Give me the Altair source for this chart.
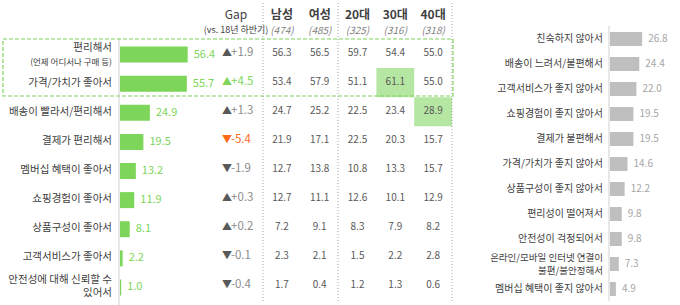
import altair as alt
import pandas as pd

# ---------------- data ----------------
left_labels = ["편리해서", "가격/가치가 좋아서", "배송이 빨라서/편리해서", "결제가 편리해서",
               "멤버십 혜택이 좋아서", "쇼핑경험이 좋아서", "상품구성이 좋아서",
               "고객서비스가 좋아서", "안전성에 대해 신뢰할 수\n있어서"]
left_note = "(언제 어디서나 구매 등)"
left_values = [56.4, 55.7, 24.9, 19.5, 13.2, 11.9, 8.1, 2.2, 1.0]
gap_values = [1.9, 4.5, 1.3, -5.4, -1.9, 0.3, 0.2, -0.1, -0.4]
gap_title = "Gap"
gap_subtitle = "(vs. 18년 하반기)"

groups = ["남성", "여성", "20대", "30대", "40대"]
group_counts = ["(474)", "(485)", "(325)", "(316)", "(318)"]
male = [56.3, 53.4, 24.7, 21.9, 12.7, 12.7, 7.2, 2.3, 1.7]
female = [56.5, 57.9, 25.2, 17.1, 13.8, 11.1, 9.1, 2.1, 0.4]
age20 = [59.7, 51.1, 22.5, 22.5, 10.8, 12.6, 8.3, 1.5, 1.2]
age30 = [54.4, 61.1, 23.4, 20.3, 13.3, 10.1, 7.9, 2.2, 1.3]
age40 = [55.0, 55.0, 28.9, 15.7, 15.7, 12.9, 8.2, 2.8, 0.6]

right_labels = ["친숙하지 않아서", "배송이 느려서/불편해서", "고객서비스가 좋지 않아서",
                "쇼핑경험이 좋지 않아서", "결제가 불편해서", "가격/가치가 좋지 않아서",
                "상품구성이 좋지 않아서", "편리성이 떨어져서", "안전성이 걱정되어서",
                "온라인/모바일 인터넷 연결이\n불편/불안정해서", "멤버십 혜택이 좋지 않아서"]
right_values = [26.8, 24.4, 22.0, 19.5, 19.5, 14.6, 12.2, 9.8, 9.8, 7.3, 4.9]

# ---------------- styles ----------------
FONT = "Noto Sans CJK KR"
GREEN = "#7DD65A"
LIGHT_GREEN = "#B5E6A2"
ORANGE = "#FF6A1A"
GRAY_BAR = "#BFBFBF"
TXT = "#404040"
NUM = "#595959"
LINE = "#D9D9D9"

# ---------------- tables ----------------
n_left = len(left_labels)
left_df = pd.DataFrame({"row": list(range(n_left)), "label": left_labels,
                        "value": left_values, "gap": gap_values})
left_df["arrow"] = ["▲" if g > 0 else "▼" for g in gap_values]
left_df["gaptxt"] = [f"{g:+.1f}" for g in gap_values]
left_df["gapcat"] = ["up" if g >= 3 else ("down" if g <= -3 else "flat") for g in gap_values]
left_df["multi"] = ["\n" in s for s in left_labels]

series = [male, female, age20, age30, age40]
tbl_rows = []
for g, vals in zip(groups, series):
    for i, v in enumerate(vals):
        tbl_rows.append({"row": i, "group": g, "value": v,
                         "hi": (v - left_values[i]) >= 4})
tbl_df = pd.DataFrame(tbl_rows)
head_df = pd.DataFrame({"group": groups, "count": group_counts})

n_right = len(right_labels)
right_df = pd.DataFrame({"row": list(range(n_right)), "label": right_labels,
                         "value": right_values})
right_df["multi"] = ["\n" in s for s in right_labels]

one = pd.DataFrame({"t": [gap_title], "s": [gap_subtitle], "note": [left_note]})

# ---------------- scales ----------------
y_left = alt.Y("row:O", axis=None,
               scale=alt.Scale(type="band", domain=list(range(n_left)), range=[39, 301],
                               paddingInner=0, paddingOuter=0))
x_left = alt.X("value:Q", axis=None, scale=alt.Scale(domain=[0, 100], range=[120, 240]))
x_tbl = alt.X("group:N", axis=None,
              scale=alt.Scale(type="band", domain=groups, range=[263, 452],
                              paddingInner=0, paddingOuter=0))
y_right = alt.Y("row:O", axis=None,
                scale=alt.Scale(type="band", domain=list(range(n_right)), range=[26.5, 301.5],
                                paddingInner=0, paddingOuter=0))
x_right = alt.X("value:Q", axis=None, scale=alt.Scale(domain=[0, 100], range=[610, 730]))

base_l = alt.Chart(left_df)

# left labels
lab_main = base_l.transform_filter("datum.row > 0 && !datum.multi").mark_text(
    align="right", baseline="middle", fontSize=10.5, color=TXT
).encode(x=alt.value(112), y=y_left, text="label:N")
lab_multi = base_l.transform_filter("datum.multi").mark_text(
    align="right", baseline="middle", fontSize=10.5, color=TXT, lineBreak="\n",
    lineHeight=13.5, dy=-6.5
).encode(x=alt.value(112), y=y_left, text="label:N")
lab_first = base_l.transform_filter("datum.row == 0").mark_text(
    align="right", baseline="middle", fontSize=10.5, color=TXT, dy=-6
).encode(x=alt.value(112), y=y_left, text="label:N")
lab_note = alt.Chart(one).mark_text(
    align="right", baseline="middle", fontSize=8.5, color=TXT
).encode(x=alt.value(112), y=alt.value(61.5), text="note:N")

# guide lines
left_axis = alt.Chart(one).mark_rule(color=LINE, strokeWidth=1.2).encode(
    x=alt.value(119), y=alt.value(39), y2=alt.value(305))
right_axis = alt.Chart(one).mark_rule(color=LINE, strokeWidth=1.2).encode(
    x=alt.value(609), y=alt.value(26), y2=alt.value(301))
dots = [alt.Chart(one).mark_rule(color="#A6A6A6", strokeWidth=1, strokeDash=[1, 2]).encode(
    x=alt.value(px), y=alt.value(3), y2=alt.value(302)) for px in (263, 338, 452)]

# bars and values
bars_l = base_l.mark_bar(height=16, color=GREEN, yOffset=1).encode(x=x_left, y=y_left)
vals_l = base_l.mark_text(align="left", baseline="middle", dx=6, fontSize=11, color=GREEN,
                          yOffset=1).encode(
    x=x_left, y=y_left, text=alt.Text("value:Q", format=".1f"))

# gap column
gap_head = alt.Chart(one).mark_text(fontSize=12, color=TXT, baseline="middle").encode(
    x=alt.value(236), y=alt.value(15), text="t:N")
gap_sub = alt.Chart(one).mark_text(fontSize=9, color=TXT, baseline="middle").encode(
    x=alt.value(236), y=alt.value(30), text="s:N")
gap_arrow = base_l.mark_text(align="left", baseline="middle", fontSize=10, dy=-1).encode(
    x=alt.value(222), y=y_left, text="arrow:N",
    color=alt.Color("gapcat:N", legend=None,
                    scale=alt.Scale(domain=["up", "down", "flat"], range=[GREEN, ORANGE, "#595959"])))
gap_txt = base_l.mark_text(align="left", baseline="middle", fontSize=11.5, dy=-1).encode(
    x=alt.value(231), y=y_left, text="gaptxt:N",
    color=alt.Color("gapcat:N", legend=None,
                    scale=alt.Scale(domain=["up", "down", "flat"], range=[GREEN, ORANGE, "#8C8C8C"])))

# table
base_t = alt.Chart(tbl_df)
hi_cells = base_t.transform_filter("datum.hi").mark_rect(color=LIGHT_GREEN).encode(
    x=x_tbl, y=y_left)
tbl_txt = base_t.mark_text(baseline="middle", fontSize=10, color=NUM, dy=-1).encode(
    x=x_tbl, y=y_left, text=alt.Text("value:Q", format=".1f"))
head_txt = alt.Chart(head_df).mark_text(baseline="middle", fontSize=12, fontWeight="bold",
                                        color=TXT).encode(
    x=x_tbl, y=alt.value(15), text="group:N")
count_txt = alt.Chart(head_df).mark_text(baseline="middle", fontSize=10, fontStyle="italic",
                                         color="#7F7F7F").encode(
    x=x_tbl, y=alt.value(31), text="count:N")

# dashed highlight box
box = alt.Chart(one).mark_rect(fillOpacity=0, stroke=GREEN, strokeWidth=1.2,
                               strokeDash=[4, 2]).encode(
    x=alt.value(3), x2=alt.value(453), y=alt.value(39), y2=alt.value(96))

# right panel
base_r = alt.Chart(right_df)
lab_r = base_r.transform_filter("!datum.multi").mark_text(
    align="right", baseline="middle", fontSize=10, color=TXT).encode(
    x=alt.value(603), y=y_right, text="label:N")
lab_r_multi = base_r.transform_filter("datum.multi").mark_text(
    align="right", baseline="middle", fontSize=9.5, color=TXT,
    lineBreak="\n", lineHeight=12.5, dy=-6).encode(
    x=alt.value(603), y=y_right, text="label:N")
bars_r = base_r.mark_bar(height=14, color=GRAY_BAR).encode(x=x_right, y=y_right)
vals_r = base_r.mark_text(align="left", baseline="middle", dx=6, fontSize=10,
                          color="#A6A6A6").encode(
    x=x_right, y=y_right, text=alt.Text("value:Q", format=".1f"))

chart = alt.layer(
    hi_cells, left_axis, right_axis, *dots, box,
    lab_main, lab_multi, lab_first, lab_note, bars_l, vals_l,
    gap_head, gap_sub, gap_arrow, gap_txt,
    tbl_txt, head_txt, count_txt,
    lab_r, lab_r_multi, bars_r, vals_r,
).resolve_scale(
    x="independent", y="independent", color="independent"
).properties(
    width=680, height=305, padding=0,
    autosize=alt.AutoSizeParams(type="none"),
).configure(font=FONT).configure_view(stroke=None)

chart.save("out.html", embed_options={"renderer": "svg", "actions": False})
